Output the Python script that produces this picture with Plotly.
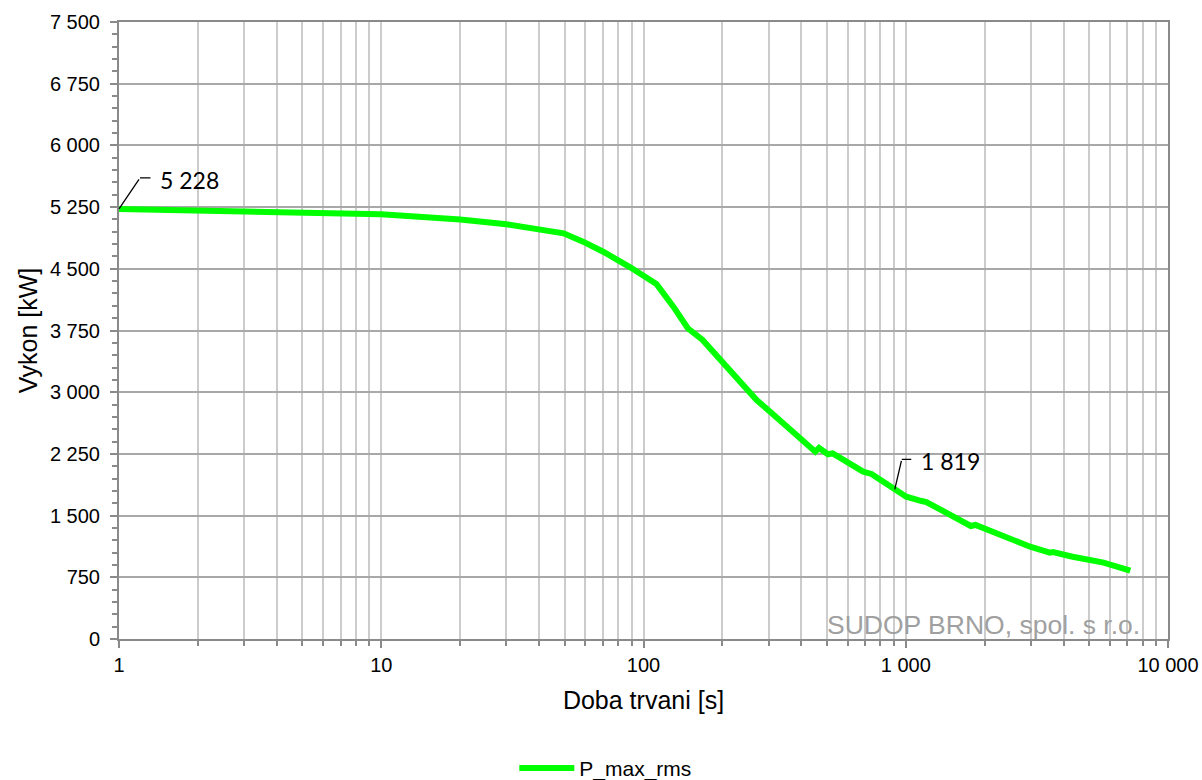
import math
import plotly.graph_objects as go

# ---- data ----
duration_s = [1, 2, 3, 10, 20, 30, 40.3, 49.6, 58.8, 70.2, 89, 100, 112, 130, 147.5, 168,
              201, 270, 304, 395, 452, 467, 505, 527, 595, 688, 740, 908, 1005, 1150,
              1198, 1564, 1770, 1845, 2020, 2980, 3540, 3640, 4330, 5360, 5680, 7180]
power_kw = [5228, 5216, 5195, 5162, 5100, 5041, 4980, 4931, 4830, 4708, 4518, 4425, 4315, 4040,
            3777, 3635, 3359, 2905, 2763, 2440, 2277, 2322, 2245, 2257, 2155, 2034, 2006, 1819,
            1730, 1677, 1665, 1467, 1374, 1386, 1333, 1122, 1049, 1057, 1000, 940, 928, 830]
series_name = "P_max_rms"
x_major_ticks = [1, 10, 100, 1000, 10000]
x_minor_ticks = [m * d for d in [1, 10, 100, 1000] for m in range(2, 10)]
labelled_points = [0, 27]  # indices of points carrying a value label

fig = go.Figure()
fig.add_trace(go.Scatter(
    x=duration_s, y=power_kw, mode="lines", name=series_name,
    line=dict(color="#00ff00", width=6),
))

tick_font = dict(family="Liberation Sans, Arial", size=20, color="#000")
label_font = dict(family="Lato, Carlito, sans-serif", size=23, color="#000")

annotations = []
for i, (dx, dy, hx) in zip(labelled_points, [(21, -31, 12), (7, -30, 11)]):
    lx = math.log10(duration_s[i])
    ly = power_kw[i]
    # slanted leader
    annotations.append(dict(x=lx, y=ly, xref="x", yref="y", text="", showarrow=True,
                            ax=dx, ay=dy, arrowhead=0, arrowwidth=1.3, arrowcolor="#000"))
    # horizontal leader
    annotations.append(dict(x=lx, y=ly, xref="x", yref="y", text="", showarrow=True,
                            xshift=dx, yshift=-dy, ax=hx, ay=0, arrowhead=0,
                            arrowwidth=1.3, arrowcolor="#000"))
    # value label
    annotations.append(dict(x=lx, y=ly, xref="x", yref="y", showarrow=False,
                            text=f"{power_kw[i]:,}".replace(",", " "),
                            xanchor="left", yanchor="middle",
                            xshift=dx + hx + 6, yshift=-dy - 2, font=label_font))

annotations.append(dict(x=0.975, y=0.023, xref="paper", yref="paper", showarrow=False,
                        text="SUDOP BRNO, spol. s r.o.", xanchor="right", yanchor="middle",
                        font=dict(family="Liberation Sans, Arial", size=26.5, color="#a0a0a0")))

fig.update_layout(
    template="none",
    width=1202, height=780,
    margin=dict(l=119, r=34, t=22, b=141, autoexpand=False),
    paper_bgcolor="white", plot_bgcolor="white",
    separators=". ",
    showlegend=True,
    legend=dict(orientation="h", xref="container", yref="container",
                x=0.504, y=0.015, xanchor="center", yanchor="middle",
                font=dict(family="Liberation Sans, Arial", size=21, color="#000"),
                itemwidth=55, bgcolor="rgba(0,0,0,0)"),
    annotations=annotations,
)

fig.update_xaxes(
    type="log", range=[0, 4], automargin=False,
    tickmode="array", tickvals=x_major_ticks, tickformat=",d",
    tickfont=tick_font,
    ticks="outside", ticklen=7, tickwidth=2, tickcolor="#8a8a8a",
    showgrid=True, gridcolor="#cccccc", gridwidth=1.5,
    showline=True, linecolor="#8a8a8a", linewidth=2, mirror=True,
    minor=dict(tickmode="array", tickvals=x_minor_ticks, ticks="outside", ticklen=5,
               tickwidth=1.5, tickcolor="#8a8a8a", showgrid=True,
               gridcolor="#cccccc", gridwidth=1.5),
    title=dict(text="Doba trvani [s]", standoff=16,
               font=dict(family="Liberation Sans, Arial", size=25, color="#000")),
    zeroline=False,
)
fig.update_yaxes(
    range=[0, 7500], automargin=False,
    tickmode="linear", tick0=0, dtick=750, tickformat=",d",
    tickfont=tick_font,
    ticks="outside", ticklen=7, tickwidth=2, tickcolor="#8a8a8a",
    ticklabelstandoff=6,
    showgrid=True, gridcolor="#a8a8a8", gridwidth=1.5,
    showline=True, linecolor="#8a8a8a", linewidth=2, mirror=True,
    minor=dict(dtick=150, tick0=0, ticks="outside", ticklen=5, tickwidth=1.5,
               tickcolor="#8a8a8a", showgrid=False),
    title=dict(text="Vykon [kW]", standoff=5,
               font=dict(family="Liberation Sans, Arial", size=25, color="#000")),
    zeroline=False,
)

fig.write_html("out.html", config={"displayModeBar": False},
               post_script="document.body.style.margin='0';document.body.style.padding='0';")
